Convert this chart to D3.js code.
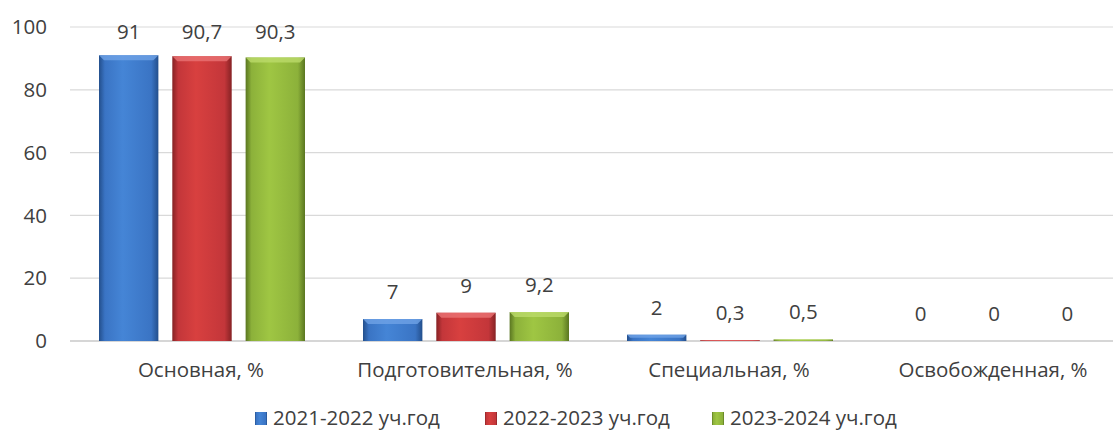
<!DOCTYPE html>
<html>
<head>
<meta charset="utf-8">
<script src="https://cdnjs.cloudflare.com/ajax/libs/d3/7.8.5/d3.min.js"></script>
<style>
body { margin: 0; background: #fff; overflow: hidden; }
svg text { font-family: "Open Sans", sans-serif; fill: #404040; }
</style>
</head>
<body>
<svg width="1113" height="432"></svg>
<script>
// data
var categories = ['Основная, %', 'Подготовительная, %', 'Специальная, %', 'Освобожденная, %'];
var seriesNames = ['2021-2022 уч.год', '2022-2023 уч.год', '2023-2024 уч.год'];
var values2021 = [91, 7, 2, 0];
var values2022 = [90.7, 9, 0.3, 0];
var values2023 = [90.3, 9.2, 0.5, 0];
var yTicks = [0, 20, 40, 60, 80, 100];

var allValues = [values2021, values2022, values2023];
var colors = [
    { light: '#4585d6', mid: '#3a74c4', dark: '#234f8c', top: '#6fa3e6' },
    { light: '#d8403f', mid: '#c3363a', dark: '#862224', top: '#ea7374' },
    { light: '#9fc643', mid: '#8cb13a', dark: '#5a7621', top: '#bcdb6a' }
];
var fs = 20.5;

var svg = d3.select('svg');
var defs = svg.append('defs');

colors.forEach(function(c, i) {
    var g = defs.append('linearGradient')
        .attr('id', 'grad' + i)
        .attr('x1', '0').attr('x2', '1').attr('y1', '0').attr('y2', '0');
    g.append('stop').attr('offset', '0%').attr('stop-color', c.dark);
    g.append('stop').attr('offset', '10%').attr('stop-color', c.mid);
    g.append('stop').attr('offset', '40%').attr('stop-color', c.light);
    g.append('stop').attr('offset', '88%').attr('stop-color', c.mid);
    g.append('stop').attr('offset', '100%').attr('stop-color', c.dark);
});

var x0 = d3.scaleBand()
    .domain(categories)
    .range([69, 1125])
    .paddingInner(0)
    .paddingOuter(0);

var x1 = d3.scaleBand()
    .domain(d3.range(seriesNames.length))
    .range([30, x0.bandwidth() - 28])
    .paddingInner(0.19);

var y = d3.scaleLinear()
    .domain([0, 100])
    .range([341, 27]);

// gridlines
svg.selectAll('.grid')
    .data(yTicks)
    .enter()
    .append('line')
    .attr('class', 'grid')
    .attr('x1', 70)
    .attr('x2', 1113)
    .attr('y1', function(d) { return y(d); })
    .attr('y2', function(d) { return y(d); })
    .attr('stroke', function(d) { return d === 0 ? '#c8c8c8' : '#d9d9d9'; })
    .attr('stroke-width', function(d) { return d === 0 ? 1.5 : 1.2; });

// y labels
svg.selectAll('.ylab')
    .data(yTicks)
    .enter()
    .append('text')
    .attr('class', 'ylab')
    .attr('x', 47)
    .attr('y', function(d) { return y(d); })
    .attr('dy', '0.35em')
    .attr('text-anchor', 'end')
    .attr('font-size', fs)
    .text(function(d) { return d; });

// bars
var group = svg.selectAll('.cat')
    .data(categories)
    .enter()
    .append('g')
    .attr('class', 'cat')
    .attr('transform', function(d) { return 'translate(' + x0(d) + ',0)'; });

group.each(function(cat, ci) {
    var g = d3.select(this);
    seriesNames.forEach(function(s, si) {
        var v = allValues[si][ci];
        var bx = x1(si), bw = x1.bandwidth();
        var top = y(v), h = y(0) - y(v);
        if (h > 0) {
            g.append('rect')
                .attr('x', bx).attr('y', top)
                .attr('width', bw).attr('height', h)
                .attr('fill', 'url(#grad' + si + ')');
            var bev = Math.min(5, h / 2);
            g.append('path')
                .attr('d', 'M' + bx + ',' + top + 'L' + (bx + bw) + ',' + top +
                    'L' + (bx + bw - bev) + ',' + (top + bev) + 'L' + (bx + bev) + ',' + (top + bev) + 'Z')
                .attr('fill', colors[si].top)
                .attr('opacity', 0.8);
        }
        g.append('text')
            .attr('x', bx + bw / 2)
            .attr('y', Math.max(top - 20, 39))
            .attr('text-anchor', 'middle')
            .attr('font-size', fs)
            .text(String(v).replace('.', ','));
    });
});

// category labels
svg.selectAll('.xlab')
    .data(categories)
    .enter()
    .append('text')
    .attr('class', 'xlab')
    .attr('x', function(d) { return x0(d) + x0.bandwidth() / 2; })
    .attr('y', 377)
    .attr('text-anchor', 'middle')
    .attr('font-size', fs)
    .text(function(d) { return d; });

// legend
var legendX = [255, 485, 712];
var legend = svg.selectAll('.leg')
    .data(seriesNames)
    .enter()
    .append('g')
    .attr('class', 'leg')
    .attr('transform', function(d, i) { return 'translate(' + legendX[i] + ',412)'; });

legend.append('rect')
    .attr('width', 12).attr('height', 13)
    .attr('fill', function(d, i) { return 'url(#grad' + i + ')'; });

legend.append('text')
    .attr('x', 18)
    .attr('y', 13)
    .attr('font-size', fs)
    .text(function(d) { return d; });
</script>
</body>
</html>
